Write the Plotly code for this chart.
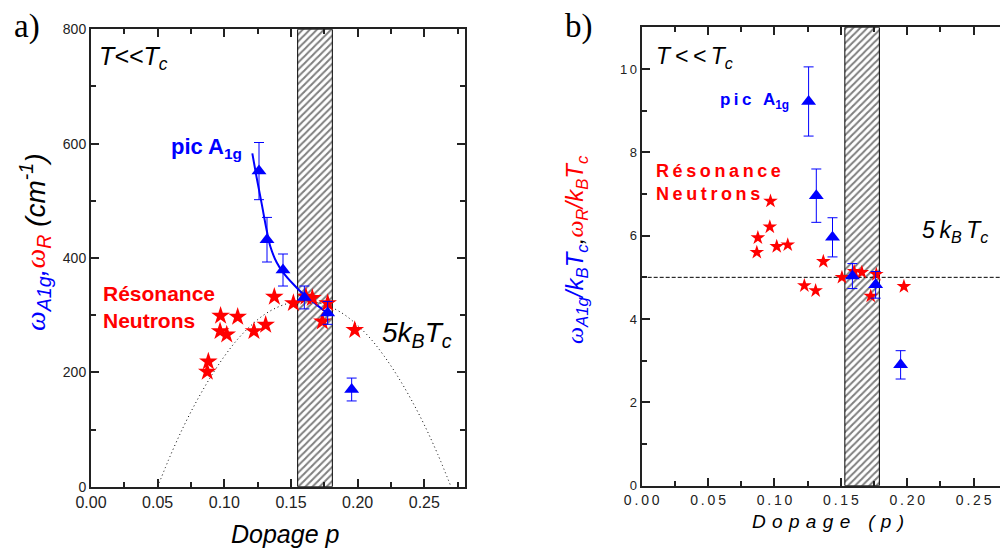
import plotly.graph_objects as go

# the page body keeps its default 8 px margin, so the figure is drawn
# 8 px smaller and all pixel positions are expressed in window pixels.
OFF = 8
W, H = 1008 - OFF, 554 - OFF

# ---------------- data : panel a) ----------------
a1g_p = [0.126, 0.132, 0.144, 0.160, 0.1775, 0.1955]
a1g_w = [552, 432, 379, 331, 304, 170]
a1g_err = [50, 39, 28, 20, 20, 20]

fit_p = [0.121, 0.1243, 0.128, 0.1318, 0.1345, 0.1393, 0.144, 0.1518, 0.160, 0.1693, 0.1775]
fit_w = [583, 540, 495, 448, 420, 392, 375, 354, 335, 318, 303]

res_p = [0.0872, 0.088, 0.0972, 0.0968, 0.1018, 0.110, 0.1222, 0.131, 0.1375,
         0.1518, 0.1612, 0.166, 0.1775, 0.1735, 0.1978]
res_w = [201, 219, 299, 272, 266, 297, 272, 283, 332, 321, 332, 330, 321, 289, 274]

dome_p = [0.05, 0.06, 0.07, 0.08, 0.09, 0.10, 0.11, 0.12, 0.13, 0.14, 0.15, 0.16,
          0.17, 0.18, 0.19, 0.20, 0.21, 0.22, 0.23, 0.24, 0.25, 0.26, 0.27]
dome_w = [0, 57, 108, 153, 193, 228, 258, 282, 301, 314, 322, 325,
          322, 314, 301, 282, 258, 228, 193, 153, 108, 57, 0]

band_a = [0.155, 0.181]

# ---------------- data : panel b) ----------------
a1g_p_b = [0.1257, 0.1315, 0.1437, 0.1587, 0.1762, 0.195]
a1g_r_b = [9.22, 6.96, 5.96, 5.03, 4.82, 2.90]
a1g_err_b = [0.83, 0.64, 0.47, 0.30, 0.32, 0.34]

res_p_b = [0.097, 0.0875, 0.0965, 0.0867, 0.1017, 0.110, 0.1368, 0.1225, 0.131,
           0.1508, 0.160, 0.1658, 0.1767, 0.1725, 0.1975]
res_r_b = [6.83, 5.95, 6.21, 5.60, 5.74, 5.78, 5.38, 4.80, 4.68,
           5.00, 5.14, 5.12, 5.07, 4.55, 4.78]

five_p = [0.0, 0.28]
five_r = [5, 5]

band_b = [0.153, 0.179]

# tick labels
xt_vals = [0.00, 0.05, 0.10, 0.15, 0.20, 0.25]
xt_text_a = ["0.00", "0.05", "0.10", "0.15", "0.20", "0.25"]
yt_vals_a = [0, 200, 400, 600, 800]
yt_vals_b = [0, 2, 4, 6, 8, 10]

TS = "\u2009"  # thin space for letter spacing
def spaced(s, sep=TS):
    return sep.join(list(s))

xt_text_b = [spaced(t) for t in xt_text_a]
yt_text_b = [spaced(str(v)) for v in yt_vals_b]

BLUE = "#0000ff"
RED = "#ff0000"
AX = "#222222"
FONT = "Liberation Sans, Arial, sans-serif"

fig = go.Figure()

def band_trace(b, ytop, xa, ya):
    return go.Scatter(
        x=[b[0], b[1], b[1], b[0], b[0]], y=[0, 0, ytop, ytop, 0],
        xaxis=xa, yaxis=ya, mode="lines", fill="toself",
        line=dict(color="black", width=1),
        fillcolor="white",
        fillpattern=dict(shape="/", fgcolor="black", bgcolor="white", size=5, solidity=0.4),
        hoverinfo="skip", showlegend=False)

# ---- panel a
fig.add_trace(band_trace(band_a, 800, "x", "y"))
fig.add_trace(go.Scatter(x=dome_p, y=dome_w, mode="lines", xaxis="x", yaxis="y",
                         line=dict(color="black", width=1, dash="1px,3px", shape="spline"),
                         showlegend=False))
fig.add_trace(go.Scatter(x=fit_p, y=fit_w, mode="lines", xaxis="x", yaxis="y",
                         line=dict(color=BLUE, width=2, shape="spline"), showlegend=False))
fig.add_trace(go.Scatter(x=res_p, y=res_w, mode="markers", xaxis="x", yaxis="y",
                         marker=dict(symbol="star", size=14, color=RED, line=dict(width=0)),
                         showlegend=False))
fig.add_trace(go.Scatter(x=a1g_p, y=a1g_w, mode="markers", xaxis="x", yaxis="y",
                         marker=dict(symbol="triangle-up", size=13, color=BLUE, line=dict(width=0)),
                         error_y=dict(type="data", array=a1g_err, color=BLUE, thickness=1, width=5),
                         showlegend=False))

# ---- panel b
fig.add_trace(band_trace(band_b, 11, "x2", "y2"))
fig.add_trace(go.Scatter(x=five_p, y=five_r, mode="lines", xaxis="x2", yaxis="y2",
                         line=dict(color="black", width=1, dash="4px,2px"), showlegend=False))
fig.add_trace(go.Scatter(x=res_p_b, y=res_r_b, mode="markers", xaxis="x2", yaxis="y2",
                         marker=dict(symbol="star", size=11, color=RED, line=dict(width=0)),
                         showlegend=False))
fig.add_trace(go.Scatter(x=a1g_p_b, y=a1g_r_b, mode="markers", xaxis="x2", yaxis="y2",
                         marker=dict(symbol="triangle-up", size=13, color=BLUE, line=dict(width=0)),
                         error_y=dict(type="data", array=a1g_err_b, color=BLUE, thickness=1, width=5),
                         showlegend=False))

def axis(domain, rng, tickvals, ticktext, minor_dtick, tickfont_size, anchor):
    return dict(domain=domain, range=rng, anchor=anchor, automargin=False,
                tickmode="array", tickvals=tickvals, ticktext=ticktext,
                ticks="inside", ticklen=8, tickwidth=1.5, tickcolor=AX,
                showline=True, linewidth=2, linecolor=AX, mirror="ticks",
                showgrid=False, zeroline=False,
                tickfont=dict(family=FONT, size=tickfont_size, color=AX),
                minor=dict(tickmode="linear", tick0=0, dtick=minor_dtick, ticks="inside",
                           ticklen=5, tickwidth=1.5, tickcolor=AX, showgrid=False))

def px_x(p):
    return (p - OFF) / W

def px_y(p):
    return 1 - (p - OFF) / H

fig.update_layout(
    width=W, height=H, margin=dict(l=0, r=0, t=0, b=0, pad=0, autoexpand=False),
    paper_bgcolor="white", plot_bgcolor="white", showlegend=False,
    xaxis=axis([px_x(91), px_x(465)], [0, 0.2805], xt_vals, xt_text_a, 0.025, 16, "y"),
    yaxis=axis([px_y(486.7), px_y(29.3)], [0, 800], yt_vals_a, [str(v) for v in yt_vals_a], 100, 14, "x"),
    xaxis2=axis([px_x(641.7), px_x(1007.5)], [0, 0.2755], xt_vals, xt_text_b, 0.025, 14, "y2"),
    yaxis2=axis([px_y(485.7), px_y(27.3)], [0, 11], yt_vals_b, yt_text_b, 1, 13, "x2"),
)

anns = []
def ann(text, x, y, size, color="black", xanchor="left", yanchor="middle", family=FONT, angle=0):
    anns.append(dict(text=text, x=px_x(x), y=px_y(y), xref="paper", yref="paper",
                     showarrow=False, xanchor=xanchor, yanchor=yanchor, textangle=angle,
                     align="left", borderpad=0,
                     font=dict(family=family, size=size, color=color)))

SERIF = "Liberation Serif, Times New Roman, serif"
ann("a)", 27, 27, 33, xanchor="center", family=SERIF)
ann("b)", 579, 27, 33, xanchor="center", family=SERIF)

# panel a texts
ann("<i>T&lt;&lt;T<sub>c</sub></i>", 98, 58, 25)
ann("<b>pic A<sub>1g</sub></b>", 170, 148, 22, color=BLUE)
ann("<b>Résonance<br>Neutrons</b>", 102, 307, 21, color=RED)
ann("<i>5k<sub>B</sub>T<sub>c</sub></i>", 381, 334, 28)
ann("<i>Dopage p</i>", 285, 534, 25, xanchor="center")
OM = "<span style=\"font-family:'Liberation Serif'\">ω</span>"
ann(f"<i><span style='color:{BLUE}'>{OM}<sub>A1g</sub>,</span>"
    f"<span style='color:{RED}'>{OM}<sub>R</sub></span> (cm<sup>-1</sup>)</i>",
    35, 242, 28, xanchor="center", angle=-90)

# panel b texts
ann(f"<i>{spaced('T<<T', TS).replace('<', '&lt;')}<sub>c</sub></i>", 655, 57, 23)
ann(f"<b>{spaced('pic A')}<sub>1g</sub></b>", 719, 101, 17, color=BLUE)
ann(f"<b>{spaced('Résonance')}<br>{spaced('Neutrons')}</b>", 655, 182, 18, color=RED)
ann(f"<i>{spaced('5k', TS)}<sub>B</sub>{TS}T<sub>c</sub></i>", 921, 231, 23)
ann(f"<i>{spaced('Dopage (p)', chr(0x2004))}</i>", 828, 521, 19, xanchor="center")
ann(f"<i><span style='color:{BLUE}'>{OM}<sub>A1g</sub>/k<sub>B</sub>T<sub>c</sub></span>,"
    f"<span style='color:{RED}'>{OM}<sub>R</sub>/k<sub>B</sub>T<sub>c</sub></span></i>",
    576, 250, 24, xanchor="center", angle=-90)

fig.update_layout(annotations=anns)
fig.write_html("out.html")
